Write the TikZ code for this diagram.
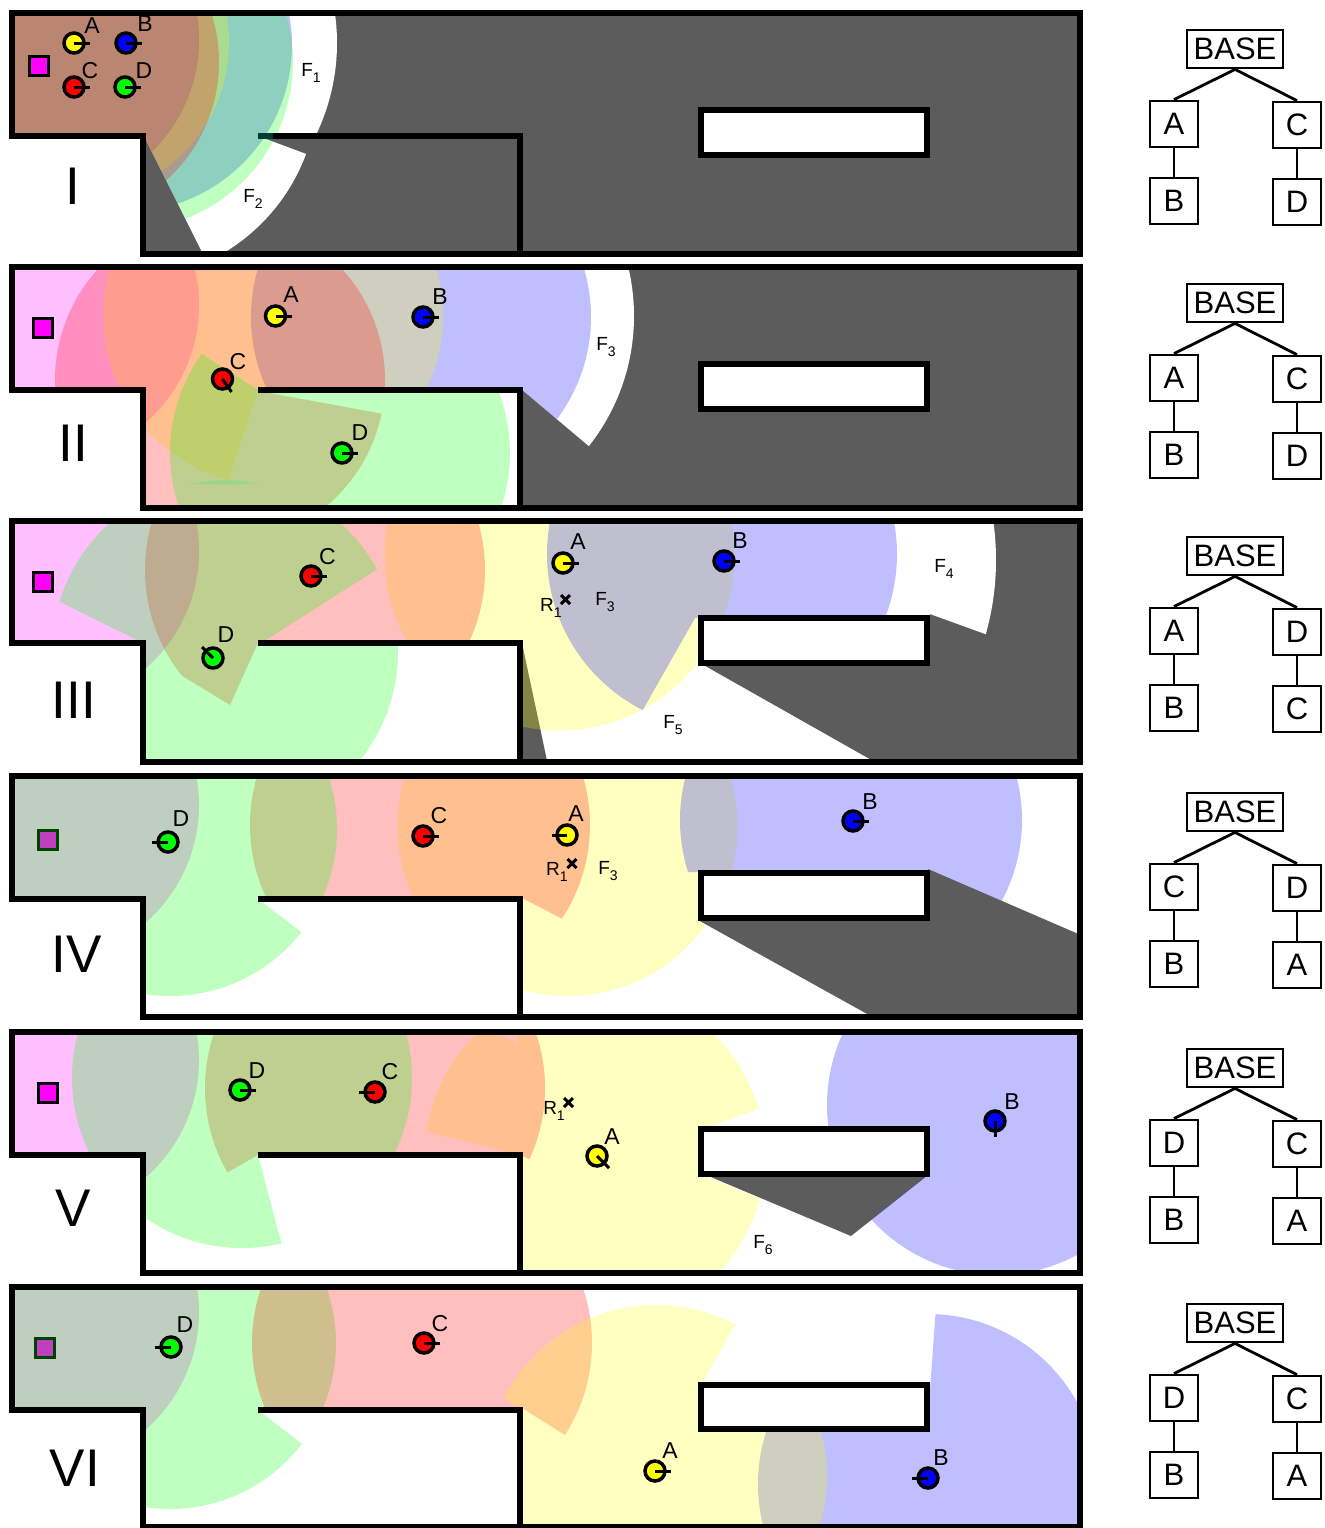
\documentclass[tikz,border=0pt]{standalone}
\usepackage{fontspec}
\setmainfont{Liberation Sans}
\definecolor{cM}{RGB}{255,0,255}
\definecolor{cR}{RGB}{255,0,0}
\definecolor{cG}{RGB}{0,255,0}
\definecolor{cB}{RGB}{0,0,255}
\definecolor{cY}{RGB}{255,255,0}
\definecolor{cDark}{RGB}{92,92,92}
\definecolor{cBaseMix}{RGB}{191,64,191}
\definecolor{cBaseEdge}{RGB}{0,64,0}
\definecolor{cLens}{RGB}{153,213,143}
\definecolor{cTealWall}{RGB}{0,60,51}
\definecolor{cBrown}{RGB}{186,133,113}
\tikzset{
  wall/.style={line width=2.6pt,draw=black,line join=miter},
  robotnode/.style={circle,draw=black,line width=1.75pt,minimum size=10pt,inner sep=0pt},
  robotarm/.style={draw=black,line width=1.5pt},
  basenode/.style={rectangle,line width=1.5pt,minimum size=9.5pt,inner sep=0pt},
  lab/.style={inner sep=0pt,font=\fontsize{11.5}{11.5}\selectfont},
  flab/.style={inner sep=0pt,font=\fontsize{9.5}{9.5}\selectfont},
  roman/.style={inner sep=0pt,font=\fontsize{26.5}{26.5}\selectfont},
  tb/.style={rectangle,draw=black,line width=1.4pt,inner sep=0pt,font=\fontsize{15.5}{15.5}\selectfont,minimum width=24pt,minimum height=23pt},
  tbase/.style={minimum width=48pt,minimum height=19pt},
  te/.style={draw=black,line width=1.4pt},
  xmark/.style={draw=black,line width=1.5pt}
}
\newcount\nid
\newcommand\vis[5]{\begin{scope}\clip #5 -- cycle;\fill[#1,fill opacity=.25] (#2,#3) circle[radius=#4];\end{scope}}
\newcommand\whitevis[4]{\begin{scope}\clip #4 -- cycle;\fill[white] (#1,#2) circle[radius=#3];\end{scope}}
\newcommand\panelclip[3]{\clip (12,#1) -- (1080,#1) -- (1080,#3) -- (143,#3) -- (143,#2) -- (12,#2) -- cycle;}
\newcommand\walls[5]{%
  \draw[wall] (12,#1) -- (1080,#1) -- (1080,#3) -- (143,#3) -- (143,#2) -- (12,#2) -- cycle;
  \draw[wall] (258,#2) -- (520,#2) -- (520,#3);
  \draw[wall,fill=white] (701,#4) rectangle (927,#5);}
\newcommand\robot[8]{% x y dx dy colour labx laby text
  \global\advance\nid by 1
  \node[robotnode,fill=#5] (r\the\nid) at (#1,#2) {};
  \draw[robotarm] (r\the\nid.center) -- ++(#3,#4);
  \node[lab] (l\the\nid) at (#6,#7) {#8};}
\newcommand\flabel[4]{\global\advance\nid by 1
  \node[flab] (f\the\nid) at (#1,#2) {#3\raisebox{-3pt}{\fontsize{7}{7}\selectfont #4}};}
\newcommand\romanlab[3]{\global\advance\nid by 1 \node[roman] (t\the\nid) at (#1,#2) {#3};}
\newcommand\basesq[4]{\global\advance\nid by 1 \node[basenode,draw=#4,fill=#3] (b\the\nid) at (#1,#2) {};}
\newcommand\xcross[2]{\draw[xmark] ({#1-4.5},{#2-4.5}) -- ({#1+4.5},{#2+4.5}) ({#1-4.5},{#2+4.5}) -- ({#1+4.5},{#2-4.5});}
\newcommand\treeblock[6]{%
  \node[tb,tbase] (#1base) at (1235,{49+#2}) {BASE};
  \node[tb] (#1l) at (1174,{124+#2}) {#3};
  \node[tb] (#1r) at (1297,{125+#2}) {#4};
  \node[tb] (#1ll) at (1174,{201+#2}) {#5};
  \node[tb] (#1rr) at (1297,{202+#2}) {#6};
  \draw[te] (#1base.south) -- (#1l.north);
  \draw[te] (#1base.south) -- (#1r.north);
  \draw[te] (#1l.south) -- (#1ll.north);
  \draw[te] (#1r.south) -- (#1rr.north);}
\begin{document}
\begin{tikzpicture}[x=0.5pt,y=-0.5pt]
\useasboundingbox (0,0) rectangle (1325,1528);
\fill[white] (0,0) rectangle (1325,1528);

% ---------- Panel I
\begin{scope}\panelclip{13}{136}{254}
  \fill[cDark] (0,0) rectangle (1100,270);
  \whitevis{126}{43}{211}{(0,0) -- (400,0) -- (400,136) -- (0,136)}
  \whitevis{125}{87}{193}{(144,136) -- (211,270) -- (400,270) -- (400,189) -- (258,136)}
  \def\Pone{(0,0) -- (340,0) -- (340,136) -- (258,136) -- (340,166) -- (340,270) -- (211,270) -- (144,136) -- (0,136)}
  \vis{cB}{125}{45}{167}{\Pone}
  \vis{cG}{125}{62}{168}{\Pone}
  \vis{cY}{74}{43}{155}{\Pone}
  \vis{cR}{60}{62}{159}{\Pone}
  \begin{scope}\clip \Pone -- cycle;\fill[cBrown] (43,40) circle[radius=156];\end{scope}
\end{scope}
\walls{13}{136}{254}{110}{155}
\draw[line width=2.6pt,cTealWall] (258,136) -- (273,136);
\basesq{38.5}{66}{cM}{black}
\robot{74}{43}{16}{0}{cY}{92}{26}{A}
\robot{126}{43}{16}{0}{cB}{145}{24}{B}
\robot{74}{87}{16}{0}{cR}{90}{71}{C}
\robot{125}{87}{16}{0}{cG}{144}{71}{D}
\flabel{311}{73}{F}{1}
\flabel{253}{199}{F}{2}
\romanlab{73}{186}{I}

% ---------- Panel II
\begin{scope}\panelclip{267}{390}{508}
  \fill[cDark] (520,260) rectangle (1100,520);
  \def\Pf{(200,260) -- (700,260) -- (700,540) -- (520,388) -- (200,388)}
  \whitevis{424}{316}{210}{\Pf}
  \vis{cM}{43}{305}{156}{(0,260) -- (400,260) -- (400,520) -- (0,520)}
  \vis{cB}{421}{317}{170}{\Pf}
  \vis{cY}{273}{316}{170}{(90,260) -- (500,260) -- (500,390) -- (258,390) -- (232,469) -- (220,512) -- (90,512)}
  \vis{cR}{220}{380}{165}{(40,260) -- (500,260) -- (500,390) -- (258,391) -- (400,417) -- (400,512) -- (40,512)}
  \vis{cG}{340}{453}{170}{(258,390) -- (180,340) -- (140,340) -- (140,520) -- (530,520) -- (530,390)}
  \fill[cLens] (189,484) .. controls (215,479) and (235,479) .. (259,484) -- cycle;
\end{scope}
\walls{267}{390}{508}{364}{409}
\basesq{43}{328}{cM}{black}
\robot{275.5}{316}{16}{0}{cY}{291}{295}{A}
\robot{423}{317}{16}{0}{cB}{440}{297}{B}
\robot{222.5}{379}{9}{13}{cR}{238}{362}{C}
\robot{342}{453}{16}{0}{cG}{360}{433}{D}
\flabel{606}{347}{F}{3}
\romanlab{73}{443}{II}

% ---------- Panel III
\begin{scope}\panelclip{521}{643}{762}
  \fill[cDark] (522,643) -- (549,770) -- (520,770) -- (520,643) -- cycle;
  \fill[cDark] (700,663) -- (875,762) -- (1090,762) -- (1090,515) -- (930,515) -- (930,663) -- cycle;
  \whitevis{724}{560}{272}{(900,515) -- (1090,515) -- (1090,672) -- (930,614) -- (900,614)}
  \vis{cM}{43}{551}{156}{(0,510) -- (400,510) -- (400,770) -- (0,770)}
  \vis{cY}{559.5}{555.5}{175}{(360,515) -- (800,515) -- (800,618) -- (698,618) -- (700,664) -- (700,770) -- (520,770) -- (520,643) -- (360,643)}
  \vis{cR}{315}{570}{170}{(100,515) -- (650,515) -- (650,643) -- (258,643) -- (230,705) -- (143,652) -- (100,620)}
  \vis{cG}{225}{652}{173}{(143,643) -- (40,592) -- (40,515) -- (420,515) -- (420,542) -- (258,645) -- (430,645) -- (430,770) -- (143,770)}
  \vis{cB}{722}{554}{175}{(500,515) -- (1000,515) -- (1000,618) -- (695,618) -- (632,729) -- (500,729)}
\end{scope}
\walls{521}{643}{762}{618}{663}
\basesq{42.5}{582}{cM}{black}
\robot{563}{563}{16}{0}{cY}{578}{542}{A}
\robot{724}{561}{16}{0}{cB}{740}{541}{B}
\robot{311}{576}{16}{0}{cR}{327.5}{557}{C}
\robot{213}{658}{-11}{-11}{cG}{226}{635}{D}
\xcross{565.5}{599.5}
\flabel{551}{608}{R}{1}
\flabel{605}{602}{F}{3}
\flabel{944}{569}{F}{4}
\flabel{673}{725}{F}{5}
\romanlab{74}{700}{III}

% ---------- Panel IV
\begin{scope}\panelclip{776}{899}{1017}
  \vis{cM}{43}{805}{156}{(0,770) -- (400,770) -- (400,1030) -- (0,1030)}
  \vis{cY}{567.5}{826}{170}{(380,770) -- (800,770) -- (800,872) -- (700,872) -- (700,920) -- (730,938) -- (730,1020) -- (520,1020) -- (520,899) -- (380,899)}
  \vis{cR}{420}{825}{170}{(200,770) -- (700,770) -- (700,990) -- (520,897) -- (200,897)}
  \vis{cG}{170}{829}{167}{(0,770) -- (400,770) -- (400,899) -- (258,899) -- (350,969) -- (350,1030) -- (0,1030)}
  \vis{cB}{851}{820}{171}{(600,770) -- (1100,770) -- (1100,945) -- (928,870) -- (696,872) -- (600,872)}
  \fill[cDark] (698,920) -- (878,1020) -- (1090,1020) -- (1090,939) -- (928,869) -- (927,918) -- cycle;
\end{scope}
\walls{776}{899}{1017}{873}{918}
\basesq{47.5}{839.5}{cBaseMix}{cBaseEdge}
\robot{168}{842}{-16}{0}{cG}{181}{819}{D}
\robot{423}{836}{16}{0}{cR}{439}{816}{C}
\robot{567}{835}{-15}{0}{cY}{576}{814}{A}
\robot{853}{821}{16}{0}{cB}{870}{802}{B}
\xcross{572}{863.5}
\flabel{557}{872}{R}{1}
\flabel{608}{871}{F}{3}
\romanlab{77}{954}{IV}

% ---------- Panel V
\begin{scope}\panelclip{1032}{1155}{1273}
  \fill[cDark] (706,1175) -- (928,1175) -- (851,1236) -- cycle;
  \vis{cM}{43}{1060}{156}{(0,1025) -- (400,1025) -- (400,1285) -- (0,1285)}
  \vis{cY}{595}{1156}{170}{(520,1285) -- (520,1155) -- (400,1125) -- (400,1025) -- (497.5,1025) -- (497.5,1034) -- (517,1043) -- (517,1025) -- (800,1025) -- (800,1095) -- (700,1129) -- (700,1174) -- (851,1236) -- (860,1285)}
  \vis{cR}{375}{1088}{170}{(200,1025) -- (700,1025) -- (700,1238) -- (520,1155) -- (258,1155) -- (200,1188)}
  \vis{cG}{242}{1078}{170}{(0,1025) -- (500,1025) -- (500,1155) -- (258,1155) -- (286,1260) -- (286,1285) -- (0,1285)}
  \vis{cB}{997}{1105}{170}{(800,1025) -- (800,1129) -- (927,1129) -- (927,1175) -- (851,1236) -- (800,1277) -- (1100,1277) -- (1100,1025)}
\end{scope}
\walls{1032}{1155}{1273}{1129}{1174}
\basesq{47.5}{1092.5}{cM}{black}
\robot{240}{1090}{16}{0}{cG}{257}{1071}{D}
\robot{375}{1092}{-16}{0}{cR}{390}{1072}{C}
\robot{597}{1156}{12}{12}{cY}{612}{1137}{A}
\robot{995}{1121}{0}{16}{cB}{1012}{1102}{B}
\xcross{568.5}{1102.5}
\flabel{554}{1111}{R}{1}
\flabel{763}{1245}{F}{6}
\romanlab{73}{1208}{V}

% ---------- Panel VI
\begin{scope}\panelclip{1287}{1410}{1527}
  \vis{cM}{43}{1312}{156}{(0,1280) -- (400,1280) -- (400,1528) -- (0,1528)}
  \vis{cG}{170}{1343}{166}{(0,1280) -- (400,1280) -- (400,1410) -- (258,1410) -- (350,1481) -- (350,1528) -- (0,1528)}
  \vis{cR}{422}{1343}{170}{(200,1280) -- (700,1280) -- (700,1520) -- (522,1408) -- (200,1408)}
  \vis{cB}{928}{1484}{170}{(700,1430) -- (927,1430) -- (930.5,1383) -- (938,1280) -- (1100,1280) -- (1100,1530) -- (700,1530)}
  \vis{cY}{656}{1476}{171}{(520,1530) -- (520,1410) -- (470,1370) -- (470,1280) -- (760,1280) -- (701,1385) -- (701,1430) -- (900,1430) -- (900,1530)}
\end{scope}
\walls{1287}{1410}{1527}{1385}{1429}
\basesq{44.5}{1347.5}{cBaseMix}{cBaseEdge}
\robot{171}{1347}{-16}{0}{cG}{185}{1325}{D}
\robot{424}{1343}{16}{0}{cR}{440}{1324}{C}
\robot{655}{1471}{16}{0}{cY}{670}{1451}{A}
\robot{928}{1478}{-16}{0}{cB}{941}{1458}{B}
\romanlab{75}{1468}{VI}

% ---------- Trees
\treeblock{ta}{0}{A}{C}{B}{D}
\treeblock{tb}{254}{A}{C}{B}{D}
\treeblock{tc}{507}{A}{D}{B}{C}
\treeblock{td}{763}{C}{D}{B}{A}
\treeblock{te}{1019}{D}{C}{B}{A}
\treeblock{tf}{1274}{D}{C}{B}{A}
\end{tikzpicture}
\end{document}
